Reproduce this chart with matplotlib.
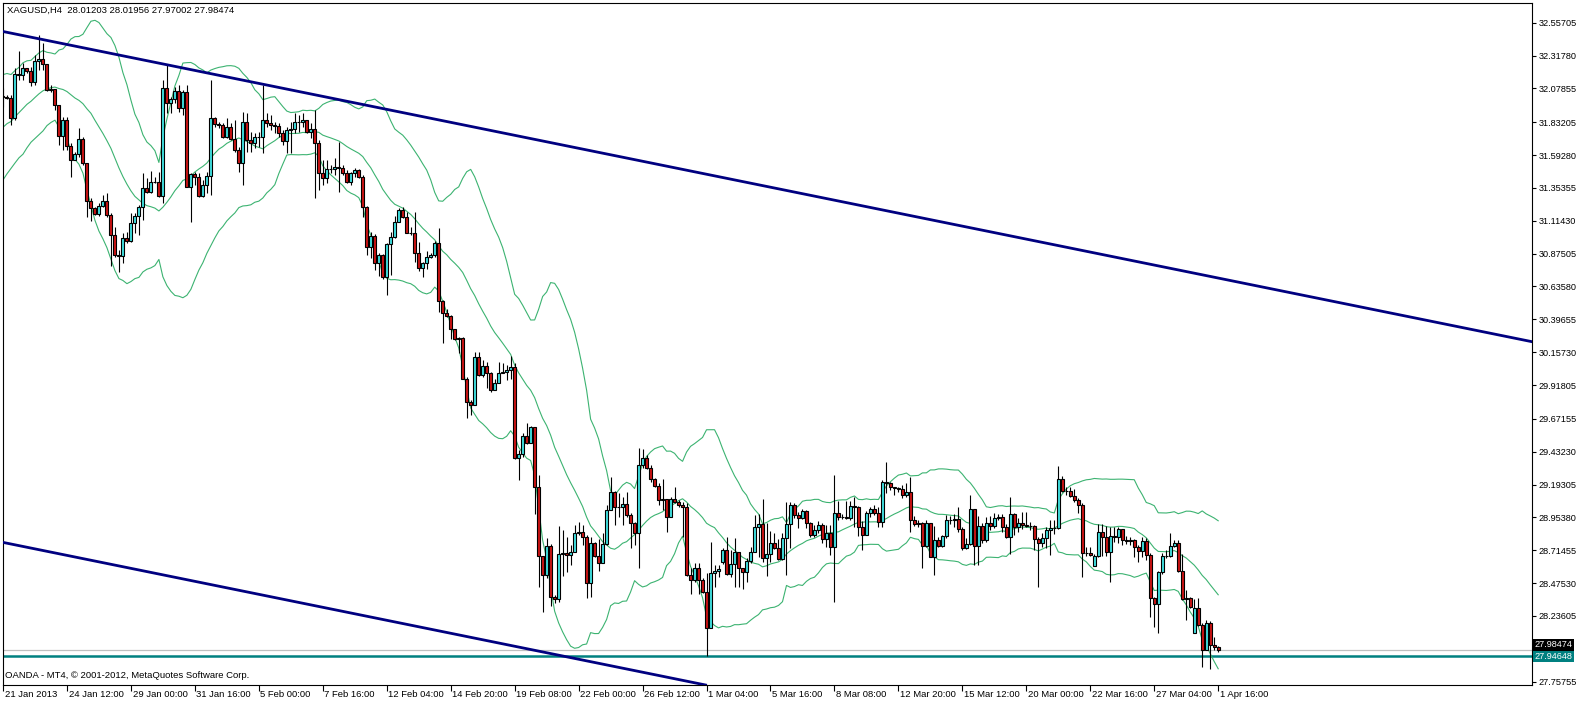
#!/usr/bin/env python3
"""
XAGUSD H4 candlestick chart in the style of an MT4 terminal window,
with Bollinger bands (20, 2), a descending channel and two price lines.
"""

import numpy as np
import pandas as pd
import matplotlib
matplotlib.use('Agg')
import matplotlib.pyplot as plt
from matplotlib.transforms import blended_transform_factory

# Header / footer text
SYMBOL_TEXT = 'XAGUSD,H4  28.01203 28.01956 27.97002 27.98474'
FOOTER_TEXT = 'OANDA - MT4, \u00a9 2001-2012, MetaQuotes Software Corp.'

# Closes of the 305 visible H4 bars
CLOSE = [
    32.018, 32.006, 31.860, 32.183, 32.176, 32.225, 32.208, 32.128, 32.278, 32.290,
    32.254, 32.067, 32.072, 31.958, 31.732, 31.848, 31.661, 31.557, 31.601, 31.707,
    31.533, 31.261, 31.205, 31.164, 31.225, 31.258, 31.156, 31.011, 30.865, 30.858,
    30.987, 30.965, 31.096, 31.149, 31.217, 31.351, 31.326, 31.399, 31.399, 31.295,
    32.079, 31.975, 31.999, 32.062, 31.933, 32.050, 31.363, 31.455, 31.436, 31.295,
    31.375, 31.441, 31.860, 31.819, 31.812, 31.722, 31.800, 31.712, 31.630, 31.533,
    31.836, 31.703, 31.683, 31.722, 31.722, 31.848, 31.824, 31.812, 31.807, 31.751,
    31.698, 31.776, 31.783, 31.836, 31.836, 31.848, 31.763, 31.780, 31.683, 31.465,
    31.424, 31.489, 31.489, 31.509, 31.496, 31.465, 31.399, 31.465, 31.484, 31.436,
    31.217, 30.926, 31.004, 30.809, 30.865, 30.703, 30.945, 30.994, 31.108, 31.193,
    31.139, 31.028, 31.028, 30.882, 30.768, 30.804, 30.853, 30.865, 30.955, 30.533,
    30.445, 30.421, 30.324, 30.256, 30.261, 29.960, 29.797, 29.773, 30.120, 29.991,
    30.057, 30.008, 29.882, 29.936, 30.008, 30.016, 30.028, 30.052, 29.384, 29.416,
    29.547, 29.499, 29.610, 29.178, 28.673, 28.535, 28.746, 28.372, 28.357, 28.688,
    28.697, 28.680, 28.705, 28.843, 28.850, 28.809, 28.479, 28.770, 28.673, 28.624,
    28.760, 29.008, 29.142, 29.032, 29.032, 29.052, 28.972, 28.911, 28.843, 29.336,
    29.384, 29.311, 29.231, 29.183, 29.081, 29.086, 28.959, 29.086, 29.069, 29.044,
    29.032, 28.535, 28.498, 28.583, 28.498, 28.413, 28.146, 28.552, 28.566, 28.576,
    28.717, 28.542, 28.615, 28.704, 28.583, 28.559, 28.639, 28.704, 28.887, 28.906,
    28.656, 28.687, 28.765, 28.729, 28.649, 28.802, 28.906, 29.044, 28.972, 28.947,
    29.003, 28.911, 28.826, 28.862, 28.899, 28.800, 28.838, 28.741, 28.984, 28.954,
    28.959, 28.947, 29.037, 29.032, 28.886, 28.826, 28.984, 29.013, 28.988, 28.923,
    29.214, 29.207, 29.173, 29.171, 29.163, 29.117, 29.141, 28.935, 28.906, 28.911,
    28.746, 28.911, 28.668, 28.789, 28.746, 28.818, 28.935, 28.935, 28.940, 28.867,
    28.729, 28.760, 29.013, 28.746, 28.891, 28.789, 28.911, 28.891, 28.947, 28.954,
    28.886, 28.814, 28.979, 28.881, 28.915, 28.898, 28.891, 28.891, 28.794, 28.770,
    28.801, 28.862, 28.874, 28.874, 29.231, 29.149, 29.149, 29.110, 29.081, 29.044,
    28.692, 28.697, 28.678, 28.673, 28.848, 28.814, 28.704, 28.818, 28.809, 28.867,
    28.789, 28.785, 28.789, 28.736, 28.712, 28.785, 28.680, 28.364, 28.323, 28.559,
    28.673, 28.673, 28.746, 28.770, 28.566, 28.357, 28.365, 28.299, 28.292, 28.170,
    27.988, 28.182, 28.025, 28.008, 27.98474,
]

HIGH = [
    32.079, 32.030, 32.030, 32.225, 32.353, 32.261, 32.225, 32.237, 32.322, 32.467,
    32.407, 32.254, 32.103, 32.072, 31.958, 31.873, 31.868, 31.678, 31.618, 31.788,
    31.727, 31.538, 31.278, 31.217, 31.246, 31.302, 31.314, 31.169, 31.071, 30.901,
    31.023, 31.035, 31.169, 31.169, 31.229, 31.460, 31.424, 31.479, 31.436, 31.472,
    32.140, 32.249, 32.018, 32.091, 32.103, 32.067, 32.103, 31.460, 31.472, 31.460,
    31.412, 31.472, 32.140, 31.868, 31.836, 31.824, 31.860, 31.824, 31.848, 31.654,
    31.909, 31.902, 31.763, 31.751, 31.763, 32.103, 31.897, 31.885, 31.836, 31.824,
    31.776, 31.800, 31.836, 31.897, 31.885, 31.897, 31.848, 31.824, 31.921, 31.703,
    31.557, 31.557, 31.521, 31.569, 31.691, 31.521, 31.484, 31.472, 31.496, 31.489,
    31.448, 31.222, 31.035, 31.018, 30.877, 30.872, 30.950, 31.035, 31.149, 31.205,
    31.217, 31.181, 31.072, 31.181, 30.962, 30.817, 30.897, 30.882, 30.970, 31.059,
    30.537, 30.470, 30.426, 30.324, 30.270, 30.270, 29.979, 29.809, 30.161, 30.161,
    30.101, 30.088, 30.016, 29.960, 30.088, 30.076, 30.064, 30.130, 30.076, 29.445,
    29.567, 29.644, 29.620, 29.615, 29.263, 28.668, 28.802, 28.761, 28.389, 28.891,
    28.862, 28.814, 28.753, 28.899, 28.923, 28.899, 28.826, 28.814, 28.777, 28.794,
    28.843, 29.045, 29.251, 29.149, 29.134, 29.100, 29.142, 28.989, 28.923, 29.457,
    29.450, 29.409, 29.336, 29.239, 29.202, 29.231, 29.081, 29.100, 29.173, 29.081,
    29.069, 29.061, 28.583, 28.620, 28.620, 28.510, 28.547, 28.777, 28.607, 28.607,
    28.729, 28.814, 28.717, 28.802, 28.704, 28.583, 28.656, 28.741, 28.972, 28.979,
    29.086, 28.911, 28.857, 28.838, 28.794, 28.843, 29.069, 29.069, 29.061, 28.996,
    29.013, 29.008, 28.923, 28.899, 28.930, 28.916, 28.899, 28.899, 29.263, 29.076,
    28.979, 29.076, 29.076, 29.105, 29.037, 28.930, 29.003, 29.032, 29.044, 29.032,
    29.226, 29.360, 29.214, 29.178, 29.178, 29.190, 29.207, 29.246, 28.964, 28.935,
    28.923, 28.935, 28.891, 28.891, 28.814, 28.826, 28.971, 28.964, 28.979, 29.027,
    28.881, 28.801, 29.117, 29.013, 28.964, 28.911, 28.959, 28.964, 28.984, 28.979,
    28.979, 28.906, 29.100, 28.984, 28.947, 28.996, 28.996, 28.923, 28.898, 28.814,
    28.838, 28.881, 28.935, 28.935, 29.328, 29.256, 29.178, 29.173, 29.159, 29.093,
    29.057, 28.741, 28.736, 28.687, 28.906, 28.906, 28.891, 28.886, 28.882, 28.882,
    28.867, 28.818, 28.809, 28.794, 28.753, 28.809, 28.802, 28.692, 28.377, 28.566,
    28.692, 28.717, 28.838, 28.790, 28.790, 28.687, 28.425, 28.377, 28.357, 28.365,
    28.182, 28.207, 28.202, 28.080, 28.01956,
]

LOW = [
    31.945, 31.999, 31.812, 31.848, 32.140, 32.140, 32.188, 32.096, 32.103, 32.212,
    32.212, 32.062, 32.055, 31.921, 31.666, 31.630, 31.630, 31.436, 31.557, 31.581,
    31.521, 31.144, 31.115, 31.156, 31.149, 31.212, 31.144, 30.785, 30.853, 30.744,
    30.804, 30.950, 30.962, 31.023, 31.011, 31.120, 31.314, 31.314, 31.387, 31.290,
    31.246, 31.897, 31.897, 31.970, 31.909, 31.885, 31.358, 31.108, 31.375, 31.285,
    31.290, 31.314, 31.302, 31.800, 31.788, 31.715, 31.715, 31.703, 31.618, 31.472,
    31.375, 31.618, 31.618, 31.642, 31.654, 31.611, 31.800, 31.776, 31.751, 31.727,
    31.666, 31.606, 31.606, 31.751, 31.763, 31.800, 31.751, 31.715, 31.278, 31.339,
    31.375, 31.387, 31.460, 31.448, 31.326, 31.448, 31.392, 31.375, 31.436, 31.424,
    31.144, 30.865, 30.841, 30.756, 30.712, 30.693, 30.574, 30.719, 30.987, 31.108,
    31.132, 31.023, 31.011, 30.817, 30.751, 30.702, 30.761, 30.841, 30.853, 30.452,
    30.227, 30.411, 30.251, 30.246, 30.149, 29.960, 29.676, 29.700, 29.790, 29.984,
    29.979, 29.894, 29.870, 29.882, 29.943, 30.003, 29.955, 29.960, 29.377, 29.227,
    29.392, 29.489, 29.499, 28.979, 28.450, 28.268, 28.510, 28.309, 28.328, 28.340,
    28.527, 28.559, 28.607, 28.705, 28.826, 28.753, 28.365, 28.372, 28.668, 28.566,
    28.624, 28.753, 29.008, 28.899, 28.959, 28.899, 28.959, 28.729, 28.753, 28.583,
    29.312, 29.304, 29.215, 29.178, 29.045, 29.008, 28.850, 28.959, 29.057, 29.032,
    28.814, 28.527, 28.396, 28.486, 28.396, 28.401, 27.946, 28.146, 28.450, 28.522,
    28.615, 28.535, 28.522, 28.450, 28.450, 28.430, 28.486, 28.624, 28.704, 28.668,
    28.632, 28.527, 28.632, 28.722, 28.644, 28.644, 28.535, 28.729, 28.947, 28.874,
    28.940, 28.874, 28.814, 28.814, 28.838, 28.770, 28.740, 28.680, 28.340, 28.935,
    28.940, 28.940, 28.935, 28.886, 28.818, 28.716, 28.826, 28.959, 28.971, 28.882,
    28.882, 29.129, 29.154, 29.117, 29.141, 29.093, 29.100, 28.850, 28.891, 28.881,
    28.583, 28.741, 28.668, 28.534, 28.736, 28.736, 28.801, 28.906, 28.881, 28.850,
    28.716, 28.721, 28.753, 28.607, 28.607, 28.770, 28.777, 28.862, 28.874, 28.935,
    28.850, 28.801, 28.687, 28.826, 28.850, 28.867, 28.886, 28.862, 28.716, 28.449,
    28.736, 28.729, 28.680, 28.833, 28.867, 29.141, 29.117, 29.105, 29.069, 28.989,
    28.522, 28.673, 28.673, 28.600, 28.668, 28.673, 28.673, 28.486, 28.777, 28.765,
    28.753, 28.760, 28.753, 28.668, 28.632, 28.668, 28.644, 28.226, 28.153, 28.110,
    28.542, 28.656, 28.663, 28.736, 28.559, 28.352, 28.207, 28.292, 28.110, 28.163,
    27.867, 27.988, 27.847, 27.988, 27.97002,
]

# Opens follow the previous close, except these bars which opened on a gap
FIRST_OPEN = 32.020
GAP_OPENS = {180: 28.632, 273: 28.600, 298: 28.114, 304: 28.01203}

# Closes before the visible window (estimated), so the bands start at the left edge
WARMUP_CLOSE = [31.48, 31.54, 31.50, 31.56, 31.63, 31.60, 31.69, 31.72, 31.76, 31.81,
                31.80, 31.89, 31.87, 31.94, 31.99, 31.96, 32.03, 32.07, 32.05]

# Price scale labels on the right
PRICE_TICKS = [32.55705, 32.31780, 32.07855, 31.83205, 31.59280, 31.35355, 31.11430,
               30.87505, 30.63580, 30.39655, 30.15730, 29.91805, 29.67155, 29.43230,
               29.19305, 28.95380, 28.71455, 28.47530, 28.23605, 27.75755]

# Time scale labels, one every 16 bars
TIME_LABELS = ['21 Jan 2013', '24 Jan 12:00', '29 Jan 00:00', '31 Jan 16:00', '5 Feb 00:00',
               '7 Feb 16:00', '12 Feb 04:00', '14 Feb 20:00', '19 Feb 08:00', '22 Feb 00:00',
               '26 Feb 12:00', '1 Mar 04:00', '5 Mar 16:00', '8 Mar 08:00', '12 Mar 20:00',
               '15 Mar 12:00', '20 Mar 00:00', '22 Mar 16:00', '27 Mar 04:00', '1 Apr 16:00']
LABEL_EVERY = 16

# Channel trendlines as (bar, price) anchors
UPPER_CHANNEL = [(0, 32.493), (300, 30.721)]
LOWER_CHANNEL = [(0, 28.772), (100, 28.181)]

BID_PRICE = 27.98474
LEVEL_PRICE = 27.94648

BB_PERIOD = 20
BB_DEV = 2.0

BULL_COLOR = '#40E0E0'
BEAR_COLOR = '#CC1414'
BAND_COLOR = '#3CB371'
CHANNEL_COLOR = '#000080'
LEVEL_COLOR = '#008080'
FONT = 'Liberation Sans'
FSIZE = 6.8
SCALE_FSIZE = 6.6


def build_ohlc():
    close = np.array(CLOSE)
    opens = np.r_[FIRST_OPEN, close[:-1]]
    for bar, value in GAP_OPENS.items():
        opens[bar] = value
    high = np.maximum(np.array(HIGH), np.maximum(opens, close))
    low = np.minimum(np.array(LOW), np.minimum(opens, close))
    return opens, high, low, close


def bollinger(close):
    s = pd.Series(np.r_[WARMUP_CLOSE, close])
    mid = s.rolling(BB_PERIOD).mean()
    sd = s.rolling(BB_PERIOD).std(ddof=0)
    n = len(close)
    return (mid + BB_DEV * sd).values[-n:], mid.values[-n:], (mid - BB_DEV * sd).values[-n:]


def main():
    opens, high, low, close = build_ohlc()
    x = np.arange(len(close))
    upper, mid, lower = bollinger(close)

    fig = plt.figure(figsize=(15.78, 7.02), dpi=100)
    fig.patch.set_facecolor('white')
    ax = fig.add_axes([3 / 1578, 17 / 702, 1529 / 1578, 682 / 702])
    ax.set_xlim(0.25, 382.5)
    ax.set_ylim(27.7333, 32.7006)

    # bands
    for band in (upper, mid, lower):
        ax.plot(x, band, color=BAND_COLOR, lw=0.8, zorder=2)

    # candles
    colors = np.where(close >= opens, BULL_COLOR, BEAR_COLOR)
    ax.vlines(x, low, high, color='black', lw=0.8, zorder=3)
    ax.bar(x, close - opens, bottom=opens, width=0.75, color=colors,
           edgecolor='black', linewidth=0.8, zorder=4)

    # channel and price lines
    ax.axline(UPPER_CHANNEL[0], UPPER_CHANNEL[1], color=CHANNEL_COLOR, lw=2.0, zorder=5)
    ax.axline(LOWER_CHANNEL[0], LOWER_CHANNEL[1], color=CHANNEL_COLOR, lw=2.0, zorder=5)
    ax.axhline(BID_PRICE, color='#C0C0C0', lw=0.9, zorder=1)
    ax.axhline(LEVEL_PRICE, color=LEVEL_COLOR, lw=1.8, zorder=1)

    # price scale
    ax.yaxis.tick_right()
    ax.set_yticks(PRICE_TICKS)
    ax.set_yticklabels([f'{p:.5f}' for p in PRICE_TICKS], fontsize=SCALE_FSIZE, family=FONT)
    ax.tick_params(axis='y', direction='out', length=3, width=0.8, pad=2)

    # time scale
    tick_bars = [LABEL_EVERY * k for k in range(len(TIME_LABELS))]
    ax.set_xticks(tick_bars)
    ax.set_xticklabels([])
    ax.tick_params(axis='x', direction='out', length=4, width=0.8)
    trans = blended_transform_factory(ax.transData, ax.transAxes)
    for bar, label in zip(tick_bars, TIME_LABELS):
        ax.text(bar + 0.4, -0.014, label, transform=trans, ha='left', va='center',
                fontsize=FSIZE, family=FONT, clip_on=False)

    for spine in ax.spines.values():
        spine.set_color('black')
        spine.set_linewidth(0.8)

    # text overlays
    ax.text(4 / 1529, 1 - 7 / 682, SYMBOL_TEXT, transform=ax.transAxes, ha='left',
            va='center', fontsize=FSIZE, family=FONT)
    ax.text(2 / 1529, 9 / 682, FOOTER_TEXT, transform=ax.transAxes, ha='left',
            va='center', fontsize=FSIZE, family=FONT)

    # last price boxes on the scale; the bid box sits just above the level box
    ytrans = blended_transform_factory(ax.transAxes, ax.transData)
    box = dict(boxstyle='square,pad=0.15', ec='none')
    ax.annotate(f'{BID_PRICE:.5f}', xy=(1.0015, BID_PRICE), xycoords=ytrans,
                xytext=(0, 4.2), textcoords='offset points', ha='left', va='center',
                fontsize=SCALE_FSIZE, family=FONT, color='white', annotation_clip=False,
                bbox=dict(box, fc='black'), zorder=6)
    ax.annotate(f'{LEVEL_PRICE:.5f}', xy=(1.0015, LEVEL_PRICE), xycoords=ytrans,
                xytext=(0, -0.6), textcoords='offset points', ha='left', va='center',
                fontsize=SCALE_FSIZE, family=FONT, color='white', annotation_clip=False,
                bbox=dict(box, fc=LEVEL_COLOR), zorder=7)

    fig.savefig('out.png', dpi=100, facecolor='white')
    plt.close(fig)


if __name__ == '__main__':
    main()
